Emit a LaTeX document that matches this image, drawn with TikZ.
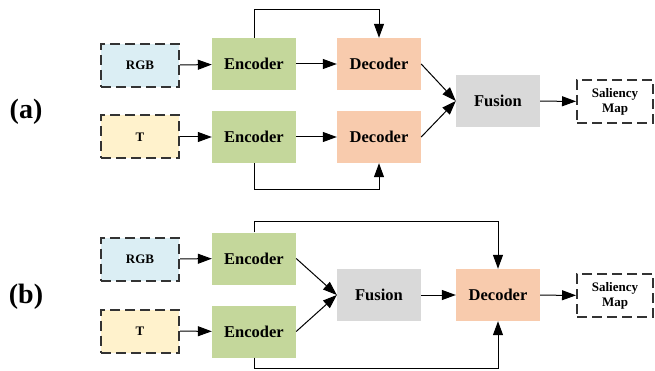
\documentclass[tikz,border=0pt]{standalone}
\usepackage{fontspec}
\setmainfont{Liberation Serif}
\usetikzlibrary{arrows.meta}
\definecolor{rgbc}{HTML}{DBEEF4}
\definecolor{tc}{HTML}{FFF2CC}
\definecolor{encc}{HTML}{C4D79B}
\definecolor{decc}{HTML}{F8CBAD}
\definecolor{fusc}{HTML}{D9D9D9}
\definecolor{dashc}{HTML}{333333}
\begin{document}
\begin{tikzpicture}[x=1pt,y=-1pt,
  blk/.style={minimum width=84pt,minimum height=52pt,inner sep=0pt,font=\fontsize{16.5}{18}\selectfont\bfseries},
  enc/.style={blk,fill=encc},
  dec/.style={blk,fill=decc},
  fus/.style={blk,fill=fusc},
  inbox/.style={draw=dashc,line width=2pt,dash pattern=on 10pt off 5pt,minimum width=78pt,minimum height=43pt,inner sep=0pt,font=\fontsize{13}{15}\selectfont\bfseries,align=center},
  arr/.style={-{Triangle[length=14pt,width=10pt]},line width=1pt},
  lab/.style={font=\fontsize{28}{30}\selectfont\bfseries}]
\useasboundingbox (0,0) rectangle (655,371);
% (a)
\node[lab] (la) at (26,112) {(a)};
\node[inbox,fill=rgbc] (rgba) at (140,65.5) {RGB};
\node[inbox,fill=tc] (ta) at (140,137) {T};
\node[enc] (ea1) at (254,64) {Encoder};
\node[enc] (ea2) at (254,137) {Encoder};
\node[dec] (da1) at (379,64) {Decoder};
\node[dec] (da2) at (379,137) {Decoder};
\node[fus] (fa) at (498,101) {Fusion};
\node[inbox,minimum width=76pt] (sa) at (615,101.5) {Saliency\\Map};
\coordinate (ta1) at (254,10);
\coordinate (ta2) at (379,10);
\coordinate (tb1) at (254,190);
\coordinate (tb2) at (379,190);
\draw[arr] (rgba) -- (ea1);
\draw[arr] (ta) -- (ea2);
\draw[arr] (ea1) -- (da1);
\draw[arr] (ea2) -- (da2);
\draw[arr] (da1.east) -- (fa.west);
\draw[arr] (da2.east) -- (fa.west);
\draw[arr] (fa) -- (sa);
\draw[arr] (ea1.north) -- (ta1) -- (ta2) -- (da1.north);
\draw[arr] (ea2.south) -- (tb1) -- (tb2) -- (da2.south);
% (b)
\node[lab] (lb) at (26,297) {(b)};
\node[inbox,fill=rgbc] (rgbb) at (140,259) {RGB};
\node[inbox,fill=tc] (tbb) at (140,331) {T};
\node[enc] (eb1) at (254,258.5) {Encoder};
\node[enc] (eb2) at (254,331.5) {Encoder};
\node[fus] (fb) at (379,295) {Fusion};
\node[dec] (db) at (498,295) {Decoder};
\node[inbox,minimum width=76pt] (sb) at (615,295.5) {Saliency\\Map};
\coordinate (tc1) at (254,222);
\coordinate (tc2) at (498,222);
\coordinate (td1) at (254,368);
\coordinate (td2) at (498,368);
\draw[arr] (rgbb) -- (eb1);
\draw[arr] (tbb) -- (eb2);
\draw[arr] (eb1.east) -- (fb.west);
\draw[arr] (eb2.east) -- (fb.west);
\draw[arr] (fb) -- (db);
\draw[arr] (db) -- (sb);
\draw[arr] (eb1.north) -- (tc1) -- (tc2) -- (db.north);
\draw[arr] (eb2.south) -- (td1) -- (td2) -- (db.south);
\end{tikzpicture}
\end{document}
